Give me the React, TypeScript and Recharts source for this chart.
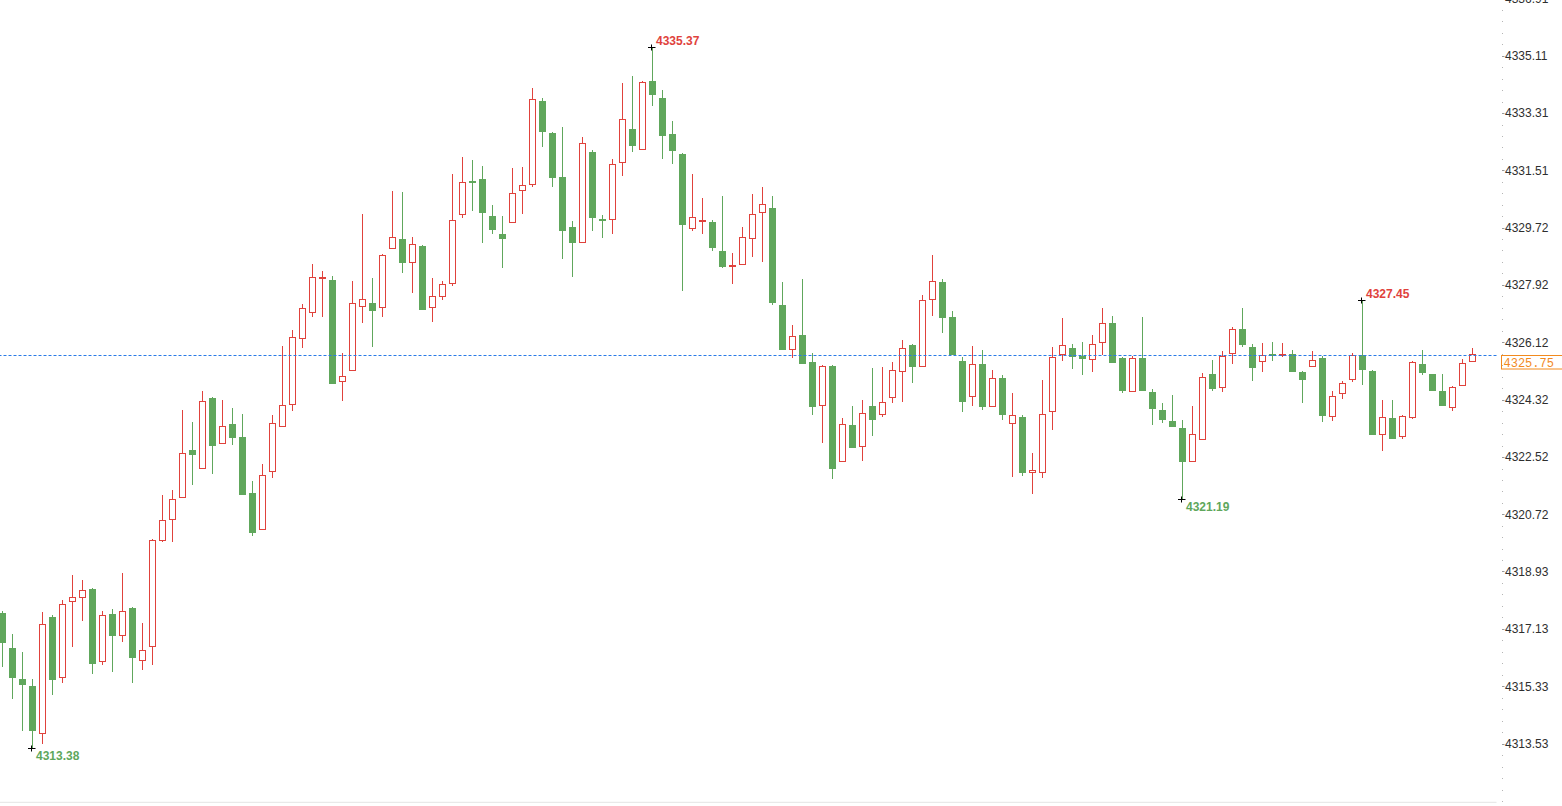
import React from "react";
import { ComposedChart, Bar, XAxis, YAxis, ReferenceLine, ReferenceDot } from "recharts";

// ---- data ----
const opens = [
  4317.64, 4316.53, 4315.56, 4315.34, 4313.82, 4317.50, 4315.58, 4317.96, 4318.09, 4318.38,
  4316.08, 4317.60, 4316.90, 4317.79, 4316.11, 4316.55, 4319.88, 4320.54, 4321.23, 4322.74,
  4322.14, 4324.37, 4322.92, 4323.56, 4323.15, 4321.39, 4320.22, 4322.04, 4323.45, 4324.14,
  4326.21, 4327.03, 4328.12, 4328.07, 4324.87, 4325.21, 4327.22, 4327.34, 4327.19, 4329.04,
  4329.35, 4328.60, 4329.14, 4327.20, 4327.54, 4327.95, 4330.10, 4331.18, 4331.24, 4330.08,
  4329.52, 4329.85, 4330.86, 4331.04, 4333.69, 4332.69, 4331.31, 4329.74, 4329.23, 4332.09,
  4329.99, 4329.95, 4331.73, 4332.81, 4332.14, 4334.32, 4333.78, 4332.65, 4332.03, 4329.66,
  4329.93, 4329.89, 4328.98, 4328.52, 4328.54, 4329.35, 4330.17, 4330.33, 4327.29, 4325.87,
  4326.35, 4325.50, 4324.13, 4325.38, 4322.36, 4323.53, 4322.83, 4324.12, 4323.83, 4324.36,
  4325.18, 4326.03, 4325.34, 4327.44, 4328.01, 4326.91, 4325.53, 4324.39, 4325.44, 4324.08,
  4325.00, 4323.55, 4323.78, 4322.01, 4322.03, 4323.94, 4325.71, 4325.94, 4325.70, 4325.57,
  4326.09, 4326.73, 4325.63, 4324.57, 4325.63, 4324.56, 4324.00, 4323.65, 4323.43, 4322.36,
  4323.05, 4325.13, 4324.68, 4325.74, 4326.54, 4325.97, 4325.49, 4325.75, 4325.73, 4325.74,
  4325.18, 4325.34, 4325.63, 4323.77, 4324.49, 4324.93, 4325.71, 4325.23, 4323.20, 4323.75,
  4323.14, 4323.74, 4325.44, 4325.13, 4324.59, 4324.05, 4324.76, 4325.49,
];
const highs = [
  4317.69, 4316.97, 4316.41, 4315.56, 4317.66, 4317.57, 4318.03, 4318.82, 4318.66, 4318.41,
  4317.68, 4317.75, 4318.88, 4317.82, 4317.32, 4319.95, 4321.33, 4321.49, 4324.00, 4323.62,
  4324.58, 4324.40, 4324.31, 4324.06, 4323.87, 4321.77, 4322.30, 4323.84, 4326.00, 4326.51,
  4327.32, 4328.58, 4328.36, 4328.19, 4325.78, 4328.04, 4330.14, 4328.14, 4328.89, 4330.87,
  4330.83, 4329.42, 4329.17, 4328.14, 4328.04, 4331.40, 4331.93, 4331.84, 4331.65, 4330.43,
  4330.08, 4331.59, 4331.62, 4334.10, 4333.78, 4332.72, 4332.87, 4329.93, 4332.56, 4332.15,
  4330.11, 4331.87, 4334.26, 4334.47, 4334.32, 4335.37, 4334.03, 4333.06, 4332.05, 4331.40,
  4330.65, 4329.96, 4330.71, 4328.92, 4329.74, 4330.77, 4330.99, 4330.71, 4328.01, 4326.66,
  4328.11, 4325.78, 4325.41, 4325.41, 4323.75, 4324.12, 4324.31, 4325.31, 4325.35, 4325.50,
  4326.19, 4326.06, 4327.60, 4328.86, 4328.11, 4327.10, 4325.66, 4326.00, 4325.88, 4325.25,
  4325.09, 4324.52, 4323.84, 4322.65, 4324.94, 4325.97, 4326.88, 4326.07, 4326.13, 4326.35,
  4327.20, 4326.95, 4325.67, 4325.70, 4326.92, 4324.66, 4324.22, 4324.46, 4323.68, 4324.12,
  4325.15, 4325.56, 4325.85, 4326.60, 4327.20, 4326.07, 4326.10, 4326.13, 4326.10, 4325.88,
  4325.22, 4325.85, 4325.69, 4324.59, 4324.92, 4325.78, 4327.45, 4325.25, 4324.31, 4324.31,
  4323.85, 4325.54, 4325.88, 4325.13, 4325.13, 4324.75, 4325.61, 4325.94,
];
const lows = [
  4315.94, 4314.94, 4313.94, 4313.38, 4313.53, 4315.07, 4315.44, 4316.57, 4317.39, 4315.73,
  4316.01, 4315.79, 4316.73, 4315.44, 4315.85, 4316.01, 4319.87, 4319.87, 4321.23, 4321.65,
  4322.14, 4322.00, 4322.92, 4322.91, 4321.34, 4320.05, 4320.22, 4321.85, 4323.45, 4323.97,
  4325.95, 4326.92, 4326.92, 4324.82, 4324.29, 4325.21, 4326.73, 4325.98, 4326.92, 4329.04,
  4328.30, 4327.68, 4327.14, 4326.76, 4327.45, 4327.89, 4330.03, 4330.25, 4329.24, 4329.53,
  4328.46, 4329.85, 4330.15, 4331.00, 4332.26, 4331.00, 4328.74, 4328.18, 4329.23, 4329.62,
  4329.40, 4329.53, 4331.35, 4332.09, 4332.14, 4333.54, 4331.88, 4331.71, 4327.74, 4329.60,
  4329.53, 4328.99, 4328.46, 4327.96, 4328.54, 4328.81, 4328.65, 4327.30, 4325.89, 4325.64,
  4325.45, 4323.85, 4322.97, 4321.84, 4322.36, 4322.81, 4322.41, 4323.19, 4323.79, 4324.23,
  4324.26, 4324.85, 4325.34, 4326.95, 4326.42, 4325.71, 4323.94, 4324.13, 4324.01, 4324.08,
  4323.69, 4321.90, 4321.94, 4321.37, 4321.87, 4323.37, 4325.54, 4325.28, 4325.09, 4325.20,
  4325.71, 4325.48, 4324.53, 4324.57, 4324.60, 4323.53, 4323.60, 4323.47, 4321.19, 4322.36,
  4323.05, 4324.60, 4324.57, 4325.45, 4325.98, 4324.92, 4325.20, 4325.54, 4325.67, 4325.20,
  4324.23, 4325.34, 4323.63, 4323.66, 4324.35, 4324.88, 4324.79, 4323.22, 4322.72, 4323.10,
  4323.08, 4323.71, 4325.09, 4324.60, 4324.13, 4323.97, 4324.76, 4325.49,
];
const closes = [
  4316.70, 4315.60, 4315.37, 4313.94, 4317.27, 4315.54, 4317.90, 4318.12, 4318.34, 4316.04,
  4317.56, 4316.92, 4317.68, 4316.23, 4316.46, 4319.92, 4320.54, 4321.20, 4322.64, 4322.59,
  4324.27, 4322.88, 4323.49, 4323.13, 4321.34, 4320.15, 4321.95, 4323.58, 4324.14, 4326.29,
  4327.19, 4328.16, 4328.16, 4324.82, 4325.05, 4327.34, 4327.47, 4327.11, 4328.85, 4329.41,
  4328.62, 4329.19, 4327.14, 4327.57, 4327.95, 4329.96, 4331.14, 4331.13, 4330.19, 4329.65,
  4329.37, 4330.79, 4331.04, 4333.74, 4332.73, 4331.28, 4329.62, 4329.24, 4332.36, 4330.03,
  4329.93, 4331.70, 4333.11, 4332.29, 4334.28, 4333.89, 4332.60, 4332.13, 4329.81, 4330.04,
  4329.97, 4329.09, 4328.49, 4328.55, 4329.41, 4330.14, 4330.45, 4327.35, 4325.89, 4326.31,
  4325.45, 4324.10, 4325.38, 4322.16, 4323.55, 4322.81, 4323.89, 4323.69, 4324.24, 4325.24,
  4325.93, 4325.35, 4327.44, 4328.03, 4326.89, 4325.71, 4324.26, 4325.43, 4324.10, 4324.99,
  4323.85, 4323.83, 4322.03, 4322.11, 4323.86, 4325.65, 4326.03, 4325.67, 4325.60, 4326.06,
  4326.72, 4325.48, 4324.59, 4325.63, 4324.60, 4324.04, 4323.69, 4323.47, 4322.37, 4323.23,
  4325.02, 4324.66, 4325.68, 4326.53, 4326.04, 4325.32, 4325.71, 4325.70, 4325.76, 4325.20,
  4324.95, 4325.56, 4323.82, 4324.43, 4324.83, 4325.71, 4325.26, 4323.22, 4323.78, 4323.10,
  4323.82, 4325.51, 4325.17, 4324.60, 4324.13, 4324.72, 4325.46, 4325.75,
];
const yTickLabels = [
  4313.53, 4315.33, 4317.13, 4318.93, 4320.72, 4322.52, 4324.32,
  4326.12, 4327.92, 4329.72, 4331.51, 4333.31, 4335.11, 4336.91,
];
const lastPrice = 4325.75;
const extremes = [
  { index: 65, value: 4335.37, kind: "high" },
  { index: 3, value: 4313.38, kind: "low" },
  { index: 118, value: 4321.19, kind: "low" },
  { index: 136, value: 4327.45, kind: "high" },
];

// ---- styling ----
const RED = "#e0423c";
const GREEN = "#60a75c";
const ORANGE = "#f28a1e";
const BLUE = "#2a7be6";
const FONT = "'Liberation Sans', Arial, sans-serif";
const SLOTS = 150;
const Y_DOMAIN: [number, number] = [4311.69, 4336.91];

const data = Array.from({ length: SLOTS }, (_, i) =>
  i < opens.length ? { i, o: opens[i], h: highs[i], l: lows[i], c: closes[i] } : { i }
);

const minorTicks: number[] = [];
for (let k = 0; k < yTickLabels.length - 1; k++) {
  const a = yTickLabels[k];
  const b = yTickLabels[k + 1];
  for (let m = 1; m < 5; m++) minorTicks.push(a + ((b - a) * m) / 5);
}
{
  const step = (yTickLabels[1] - yTickLabels[0]) / 5;
  for (let v = yTickLabels[0] - step; v > Y_DOMAIN[0]; v -= step) minorTicks.push(v);
}
const allTicks = [...yTickLabels, ...minorTicks].sort((a, b) => a - b);

function Candle(props: any) {
  const { x, y, width, height, payload } = props;
  if (!payload || payload.h == null) return null;
  const { o, h, l, c } = payload;
  const top = Math.min(y, y + height);
  const hp = Math.abs(height);
  const span = h - l;
  const toY = (v: number) => (span === 0 ? top : top + ((h - v) / span) * hp);
  const cx = x + width / 2;
  const px = Math.round(cx - 0.5); // wick pixel column
  const up = c >= o;
  const color = up ? RED : GREEN;
  const yHigh = Math.round(toY(h));
  const yLow = Math.max(Math.round(toY(l)), yHigh + 1);
  const bt = Math.round(toY(Math.max(o, c)));
  let bb = Math.round(toY(Math.min(o, c)));
  if (up) {
    if (bb - bt < 2) bb = bt + 2;
    const innerH = bb - bt - 2;
    return (
      <g>
        <rect x={px} y={yHigh} width={1} height={yLow - yHigh} fill={color} />
        <rect x={px - 3} y={bt} width={7} height={bb - bt} fill={color} />
        {innerH > 0 && <rect x={px - 2} y={bt + 1} width={5} height={innerH} fill="#ffffff" />}
      </g>
    );
  }
  if (bb - bt < 1) bb = bt + 1;
  return (
    <g>
      <rect x={px} y={yHigh} width={1} height={yLow - yHigh} fill={color} />
      <rect x={px - 3} y={bt} width={7} height={bb - bt} fill={color} />
    </g>
  );
}

function AxisTick(props: any) {
  const { x, y, payload } = props;
  const v = payload.value;
  const major = yTickLabels.some((t) => Math.abs(t - v) < 1e-6);
  if (!major) {
    return <rect x={x + 5.5} y={Math.round(y)} width={1} height={1} fill="#b5b5b5" />;
  }
  return (
    <g>
      <line x1={x + 5.5} x2={x + 8} y1={Math.round(y) + 0.5} y2={Math.round(y) + 0.5} stroke="#9a9a9a" strokeWidth={1} />
      <text x={x + 8.5} y={y + 4.3} fontSize={12} fontFamily={FONT} fill="#2e2e2e" textAnchor="start">
        {v.toFixed(2)}
      </text>
    </g>
  );
}

function LastTag(props: any) {
  const vb = props.viewBox || {};
  const right = (vb.x || 0) + (vb.width || 0);
  const ly = Math.round((vb.y || 0) + 1);
  return (
    <g>
      <rect x={right + 5} y={ly + 0.5} width={70} height={13.5} fill="#ffffff" stroke={ORANGE} strokeWidth={1} />
      <text x={right + 7} y={ly + 11.5} fontSize={12} fontFamily="'Liberation Mono', 'DejaVu Sans Mono', monospace" fill={ORANGE}>
        {lastPrice.toFixed(2)}
      </text>
    </g>
  );
}

function DashedPriceLine(props: any) {
  const { x1, x2, y1 } = props;
  const yy = Math.round((y1 || 0) + 1) + 0.5;
  return <line x1={x1} x2={x2} y1={yy} y2={yy} stroke={BLUE} strokeWidth={1} strokeDasharray="3 2" />;
}

function ExtremeMark(props: any) {
  const { cx, cy, text, kind } = props;
  const color = kind === "high" ? RED : GREEN;
  const px = Math.round(cx - 0.5) + 0.5;
  const py = Math.round(cy) + 0.5;
  return (
    <g>
      <line x1={px - 3.5} x2={px + 4} y1={py} y2={py} stroke="#000" strokeWidth={1} />
      <line x1={px} x2={px} y1={py - 3} y2={py + 3} stroke="#000" strokeWidth={1} />
      <text
        x={cx + 4.5}
        y={kind === "high" ? cy - 2 : cy + 12}
        fontSize={12}
        fontWeight="bold"
        fontFamily={FONT}
        fill={color}
      >
        {text}
      </text>
    </g>
  );
}

export default function App() {
  return (
    <div style={{ position: "absolute", left: 0, top: 0, width: 1562, height: 806, overflow: "hidden", background: "#ffffff" }}>
      <div style={{ position: "absolute", left: -4, top: -20 }}>
        <ComposedChart width={1566} height={840} data={data} margin={{ top: 18.3, right: 0, bottom: 0, left: 0.5 }}>
          <XAxis dataKey="i" type="category" tick={false} tickLine={false} axisLine={{ stroke: "#e4e4e4" }} height={17.7} interval={0} />
          <YAxis
            orientation="right"
            type="number"
            domain={Y_DOMAIN}
            allowDataOverflow
            ticks={allTicks}
            interval={0}
            width={65.5}
            axisLine={false}
            tickLine={false}
            tickSize={0}
            tickMargin={0}
            tick={<AxisTick />}
          />
          <ReferenceLine
            y={lastPrice}
            ifOverflow="visible"
            shape={(p: any) => <DashedPriceLine {...p} />}
            label={(p: any) => <LastTag {...p} />}
          />
          <Bar
            dataKey={(d: any) => (d.h == null ? null : [d.l, d.h])}
            barSize={7}
            shape={(p: any) => <Candle {...p} />}
            isAnimationActive={false}
          />
          {extremes.map((e) => (
            <ReferenceDot
              key={e.index}
              x={e.index}
              y={e.value}
              ifOverflow="visible"
              shape={(p: any) => <ExtremeMark cx={p.cx} cy={p.cy} text={e.value.toFixed(2)} kind={e.kind} />}
            />
          ))}
        </ComposedChart>
      </div>
    </div>
  );
}
